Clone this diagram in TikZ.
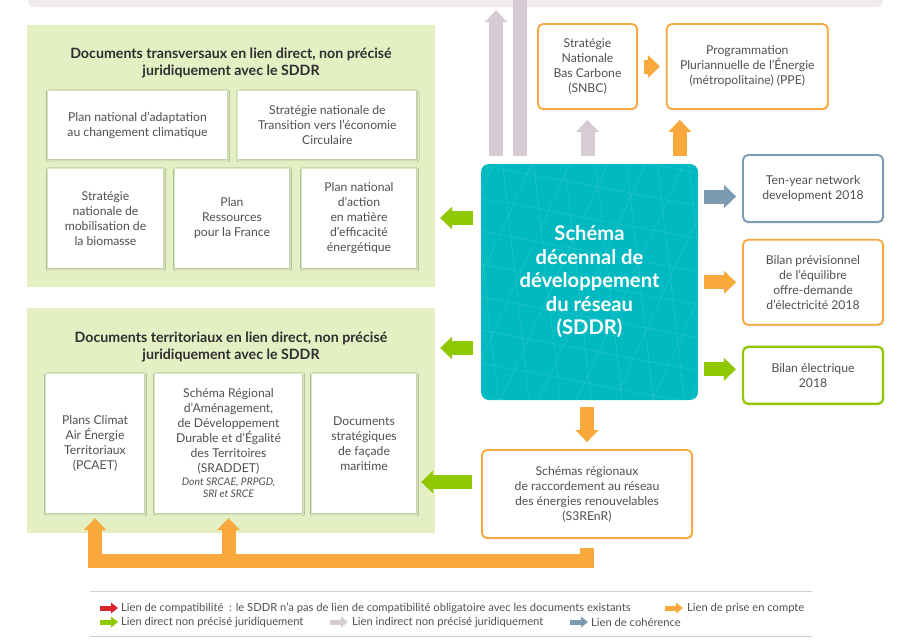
\documentclass[tikz,border=0pt]{standalone}
\usepackage{fontspec}
\setmainfont{Lato}
\usepackage{xcolor}
\usepackage{tikz}
\usetikzlibrary{arrows.meta,positioning,shadows.blur}
\definecolor{cOrange}{HTML}{F9A93B}
\definecolor{cGreen}{HTML}{8FC800}
\definecolor{cMauve}{HTML}{D8CBD3}
\definecolor{cBlue}{HTML}{7B9BB3}
\definecolor{cRed}{HTML}{D7262C}
\definecolor{cTeal}{HTML}{00B9C1}
\definecolor{cPanel}{HTML}{E4F0C4}
\definecolor{cTop}{HTML}{F0EBEF}
\definecolor{cRule}{HTML}{D3CED1}
\definecolor{cText}{HTML}{505050}
\definecolor{cTitle}{HTML}{2E2E2E}
\newcommand\docfont{\fontsize{12.2}{15}\selectfont}
\newcommand\ttlfont{\fontsize{14.2}{17}\selectfont\bfseries}
\newcommand\legfont{\fontsize{11.2}{12}\selectfont}
\newcommand\smallit{\fontsize{10.4}{12}\selectfont\itshape}
\tikzset{
  lane/.style    = {rectangle, fill=cPanel, inner sep=0pt},
  ttl/.style     = {align=center, font=\ttlfont, text=cTitle, inner sep=0pt},
  doc/.style     = {rectangle, fill=white, align=center, font=\docfont, text=cText,
                    inner sep=2pt, blur shadow={shadow blur steps=4, shadow xshift=0.6pt,
                    shadow yshift=-0.8pt, shadow opacity=22}},
  ref/.style     = {rectangle, rounded corners=5pt, draw=#1, fill=white, line width=1.8pt,
                    align=center, font=\docfont, text=cText, inner sep=2pt,
                    blur shadow={shadow blur steps=4, shadow xshift=0.6pt,
                    shadow yshift=-0.8pt, shadow opacity=18}},
  ref/.default   = cOrange,
  hub/.style     = {rectangle, rounded corners=8pt, fill=cTeal, text=white, align=center,
                    font=\fontsize{20.2}{23.5}\selectfont\bfseries, inner sep=0pt},
  topband/.style = {rectangle, rounded corners=6pt, fill=cTop, inner sep=0pt},
  fat/.style     = {draw=#1, line width=14pt,
                    -{Triangle[length=12pt,width=23pt,line width=0pt]}},
  bar/.style     = {draw=cMauve, line width=14pt},
  mesh/.style    = {draw=white, opacity=0.13, line width=0.6pt},
  leg/.style     = {font=\legfont, text=cText, inner sep=0pt, anchor=west},
  legarr/.style  = {draw=#1, line width=5pt,
                    -{Triangle[length=7pt,width=11pt,line width=0pt]}},
  rule/.style    = {draw=cRule, line width=1pt},
}

\begin{document}
\begin{tikzpicture}[x=1pt,y=-1pt]
  \useasboundingbox (0,0) rectangle (923,640);

  % strip of the diagram above
  \node[topband, minimum width=855pt, minimum height=27pt] (upper) at (455.5,-6.5) {};

  % documents transversaux
  \node[lane, minimum width=408pt, minimum height=262pt] (lane1) at (231,156) {};
  \node[ttl] (ttl1) at (231,63.5) {Documents transversaux en lien direct, non précisé\\juridiquement avec le SDDR};
  \node[doc, minimum width=179pt, minimum height=68pt] (pnacc) at (137.5,125) {Plan national d’adaptation\\au changement climatique};
  \node[doc, minimum width=178pt, minimum height=68pt, right=11pt of pnacc] (sntec) {Stratégie nationale de\\Transition vers l’économie\\Circulaire};
  \node[doc, minimum width=115pt, minimum height=99pt] (snmb) at (105.5,218.5) {Stratégie\\nationale de\\mobilisation de\\la biomasse};
  \node[doc, minimum width=114pt, minimum height=99pt] (prf) at (232,218.5) {Plan\\Ressources\\pour la France};
  \node[doc, minimum width=114pt, minimum height=99pt] (pnaee) at (359,218.5) {Plan national\\d’action\\en matière\\d’efficacité\\énergétique};

  % documents territoriaux
  \node[lane, minimum width=408pt, minimum height=225pt] (lane2) at (231,420.5) {};
  \node[ttl] (ttl2) at (231,346.5) {Documents territoriaux en lien direct, non précisé\\juridiquement avec le SDDR};
  \node[doc, minimum width=98pt, minimum height=139pt] (pcaet) at (95,443.5) {Plans Climat\\Air Énergie\\Territoriaux\\(PCAET)};
  \node[doc, minimum width=147pt, minimum height=139pt] (sraddet) at (228.5,443.5) {Schéma Régional\\d’Aménagement,\\de Développement\\Durable et d’Égalité\\des Territoires\\(SRADDET)\\[-2pt]{\smallit Dont SRCAE, PRPGD,}\\[-3pt]{\smallit SRI et SRCE}};
  \node[doc, minimum width=104pt, minimum height=139pt] (dsfm) at (364,443.5) {Documents\\stratégiques\\de façade\\maritime};

  % SDDR
  \node[hub, minimum width=217pt, minimum height=236pt] (sddr) at (589.5,282) {Schéma\\décennal de\\développement\\du réseau\\(SDDR)};
  \begin{scope}
    \clip[rounded corners=8pt] (sddr.south west) rectangle (sddr.north east);
    \foreach \i in {-2,...,8}
      \draw[mesh] (470+\i*31,150) -- (500+\i*31,415);
    \foreach \i in {-2,...,8}
      \draw[mesh] (470,130+\i*33) -- (710,175+\i*33);
    \foreach \i in {0,...,12}
      \draw[mesh] (500+\i*38,150) -- (380+\i*38,415);
  \end{scope}

  % documents nationaux et europeens
  \node[ref, minimum width=99pt, minimum height=85pt] (snbc) at (587.5,66.5) {Stratégie\\Nationale\\Bas Carbone\\(SNBC)};
  \node[ref, minimum width=161pt, minimum height=85pt, right=28pt of snbc] (ppe) {Programmation\\Pluriannuelle de l’Énergie\\(métropolitaine) (PPE)};
  \node[ref=cBlue, minimum width=140pt, minimum height=67pt] (tyndp) at (813,188.5) {Ten-year network\\development 2018};
  \node[ref, minimum width=140pt, minimum height=85pt, below=16pt of tyndp] (bprev) {Bilan prévisionnel\\de l’équilibre\\offre-demande\\d’électricité 2018};
  \node[ref=cGreen, line width=2.2pt, minimum width=140pt, minimum height=57pt, below=20pt of bprev] (belec) {Bilan électrique\\2018};
  \node[ref, minimum width=210pt, minimum height=88pt] (s3renr) at (587,494) {Schémas régionaux\\de raccordement au réseau\\des énergies renouvelables\\(S3REnR)};

  % liens
  \draw[fat=cMauve, shorten <=8pt, shorten >=3pt] ([xshift=-93.5pt]sddr.north) -- ([xshift=-93.5pt]sddr.north |- upper.south);
  \draw[bar, shorten <=8pt] ([xshift=-70pt]sddr.north) -- ([xshift=-70pt]sddr.north |- upper.center);
  \draw[fat=cMauve, shorten <=8pt, shorten >=10pt] (snbc.south |- sddr.north) -- (snbc.south);
  \draw[fat=cOrange, shorten <=8pt, shorten >=10pt] ([xshift=-67.5pt]ppe.south |- sddr.north) -- ([xshift=-67.5pt]ppe.south);
  \draw[fat=cOrange, shorten <=6pt, shorten >=6pt] (snbc) -- (ppe);
  \draw[fat=cBlue, shorten <=6pt, shorten >=6pt] ([yshift=-8pt]sddr.east |- tyndp.west) -- ([yshift=-8pt]tyndp.west);
  \draw[fat=cOrange, shorten <=6pt, shorten >=6pt] (sddr.east |- bprev.west) -- (bprev.west);
  \draw[fat=cGreen, shorten <=6pt, shorten >=6pt] ([yshift=6pt]sddr.east |- belec.west) -- ([yshift=6pt]belec.west);
  \draw[fat=cGreen, shorten <=8pt, shorten >=5pt] ([yshift=64pt]sddr.west) -- ([yshift=64pt]sddr.west -| lane1.east);
  \draw[fat=cGreen, shorten <=8pt, shorten >=5pt] ([yshift=-66pt]sddr.west) -- ([yshift=-66pt]sddr.west -| lane2.east);
  \draw[fat=cOrange, shorten <=7pt, shorten >=7pt] (s3renr.north |- sddr.south) -- (s3renr.north);
  \draw[fat=cGreen, shorten <=9pt, shorten >=5pt] ([yshift=12pt]s3renr.west) -- ([yshift=12pt]s3renr.west -| dsfm.east);
  \draw[fat=cOrange, shorten <=9pt, shorten >=5pt] (s3renr.south) -- ++(0,22) coordinate (bus) -| (pcaet.south);
  \draw[fat=cOrange, shorten >=5pt] (bus -| sraddet.south) -- (sraddet.south);

  % legende
  \draw[rule] (90,591) -- (812,591);
  \draw[rule] (90,636) -- (812,636);
  \node[leg] (lcomp) at (121,608) {Lien de compatibilité \ : le SDDR n’a pas de lien de compatibilité obligatoire avec les documents existants};
  \node[leg] (lprise) at (687,608) {Lien de prise en compte};
  \node[leg] (ldirect) at (121,622) {Lien direct non précisé juridiquement};
  \node[leg] (lindirect) at (352,622) {Lien indirect non précisé juridiquement};
  \node[leg] (lcoher) at (591,622) {Lien de cohérence};
  \draw[legarr=cRed] ([xshift=-21pt]lcomp.west) -- ([xshift=-3pt]lcomp.west);
  \draw[legarr=cOrange] ([xshift=-22pt]lprise.west) -- ([xshift=-4pt]lprise.west);
  \draw[legarr=cGreen] ([xshift=-21pt]ldirect.west) -- ([xshift=-3pt]ldirect.west);
  \draw[legarr=cMauve] ([xshift=-22pt]lindirect.west) -- ([xshift=-4pt]lindirect.west);
  \draw[legarr=cBlue] ([xshift=-21pt]lcoher.west) -- ([xshift=-3pt]lcoher.west);
\end{tikzpicture}
\end{document}
